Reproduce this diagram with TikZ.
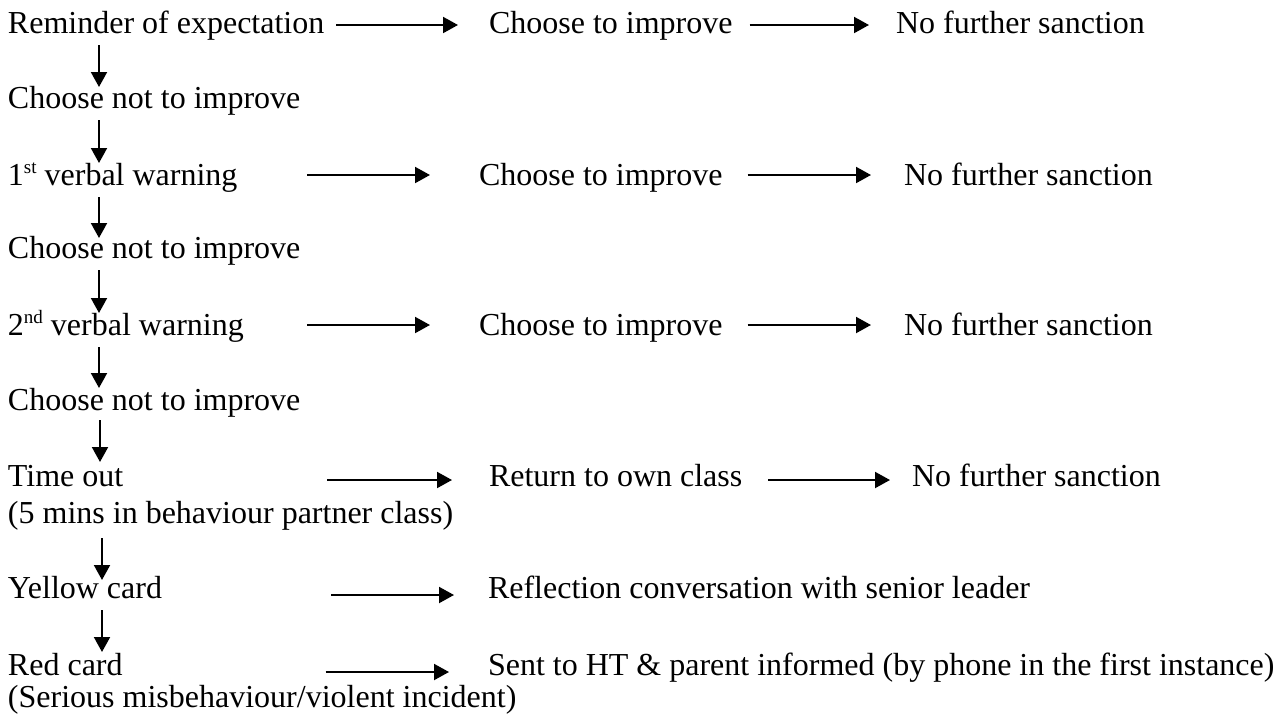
\documentclass[tikz,border=0pt]{standalone}
\usepackage{fontspec}
\setmainfont{Liberation Serif}
\usetikzlibrary{arrows.meta}
% small raised ordinal suffix
\newcommand{\ordsuf}[1]{\raisebox{11.5pt}{\fontsize{19}{19}\selectfont #1}}
\begin{document}
\begin{tikzpicture}[x=1pt,y=-1pt,
  txt/.style={anchor=base west, inner sep=0pt, outer sep=0pt,
              font=\fontsize{32}{38}\selectfont},
  arr/.style={-{Triangle[length=15pt,width=16pt]}, line width=2pt}]
\useasboundingbox (0,0) rectangle (1283,718);

% steps of the ladder
\node[txt] (r1a) at (8,33)  {Reminder of expectation};
\node[txt] (r1b) at (489,33) {Choose to improve};
\node[txt] (r1c) at (896,33) {No further sanction};

\node[txt] (r2)  at (8,108) {Choose not to improve};

\node[txt] (r3a) at (8,185)   {1\ordsuf{st} verbal warning};
\node[txt] (r3b) at (479,185) {Choose to improve};
\node[txt] (r3c) at (904,185) {No further sanction};

\node[txt] (r4)  at (8,258) {Choose not to improve};

\node[txt] (r5a) at (8,335)   {2\ordsuf{nd} verbal warning};
\node[txt] (r5b) at (479,335) {Choose to improve};
\node[txt] (r5c) at (904,335) {No further sanction};

\node[txt] (r6)  at (8,410) {Choose not to improve};

\node[txt] (r7a) at (8,486)   {Time out};
\node[txt] (r7b) at (489,486) {Return to own class};
\node[txt] (r7c) at (912,486) {No further sanction};
\node[txt] (r7n) at (8,523)   {(5 mins in behaviour partner class)};

\node[txt] (r8a) at (8,598)   {Yellow card};
\node[txt] (r8b) at (488,598) {Reflection conversation with senior leader};

\node[txt] (r9a) at (8,675)   {Red card};
\node[txt] (r9b) at (488,675) {Sent to HT \& parent informed (by phone in the first instance)};
\node[txt] (r9n) at (8,707)   {(Serious misbehaviour/violent incident)};

% sideways outcomes
\draw[arr] ([xshift=12pt,yshift=8pt]r1a.base east) -- ([xshift=-31pt,yshift=8pt]r1b.base west);
\draw[arr] ([xshift=17pt,yshift=8pt]r1b.base east) -- ([xshift=-27pt,yshift=8pt]r1c.base west);

\draw[arr] ([xshift=299pt,yshift=10pt]r3a.base west) -- ([xshift=-49pt,yshift=10pt]r3b.base west);
\draw[arr] ([xshift=25pt,yshift=10pt]r3b.base east) -- ([xshift=-33pt,yshift=10pt]r3c.base west);

\draw[arr] ([xshift=299pt,yshift=10pt]r5a.base west) -- ([xshift=-49pt,yshift=10pt]r5b.base west);
\draw[arr] ([xshift=25pt,yshift=10pt]r5b.base east) -- ([xshift=-33pt,yshift=10pt]r5c.base west);

\draw[arr] ([xshift=204pt,yshift=6pt]r7a.base east) -- ([xshift=-37pt,yshift=6pt]r7b.base west);
\draw[arr] ([xshift=26pt,yshift=6pt]r7b.base east) -- ([xshift=-22pt,yshift=6pt]r7c.base west);

\draw[arr] ([xshift=169pt,yshift=3pt]r8a.base east) -- ([xshift=-34pt,yshift=3pt]r8b.base west);
\draw[arr] ([xshift=203pt,yshift=3pt]r9a.base east) -- ([xshift=-39pt,yshift=3pt]r9b.base west);

% downward escalation
\draw[arr] ([xshift=91pt,yshift=-12pt]r1a.base west) -- ([xshift=91pt,yshift=21pt]r2.base west);
\draw[arr] ([xshift=91pt,yshift=-12pt]r2.base west)  -- ([xshift=91pt,yshift=22pt]r3a.base west);
\draw[arr] ([xshift=91pt,yshift=-12pt]r3a.base west) -- ([xshift=91pt,yshift=20pt]r4.base west);
\draw[arr] ([xshift=91pt,yshift=-12pt]r4.base west)  -- ([xshift=91pt,yshift=22pt]r5a.base west);
\draw[arr] ([xshift=91pt,yshift=-12pt]r5a.base west) -- ([xshift=91pt,yshift=22pt]r6.base west);
\draw[arr] ([xshift=92pt,yshift=-10pt]r6.base west)  -- ([xshift=92pt,yshift=24pt]r7a.base west);
\draw[arr] ([xshift=94pt,yshift=-15pt]r7n.base west) -- ([xshift=94pt,yshift=18pt]r8a.base west);
\draw[arr] ([xshift=94pt,yshift=-12pt]r8a.base west) -- ([xshift=94pt,yshift=23pt]r9a.base west);
\end{tikzpicture}
\end{document}
